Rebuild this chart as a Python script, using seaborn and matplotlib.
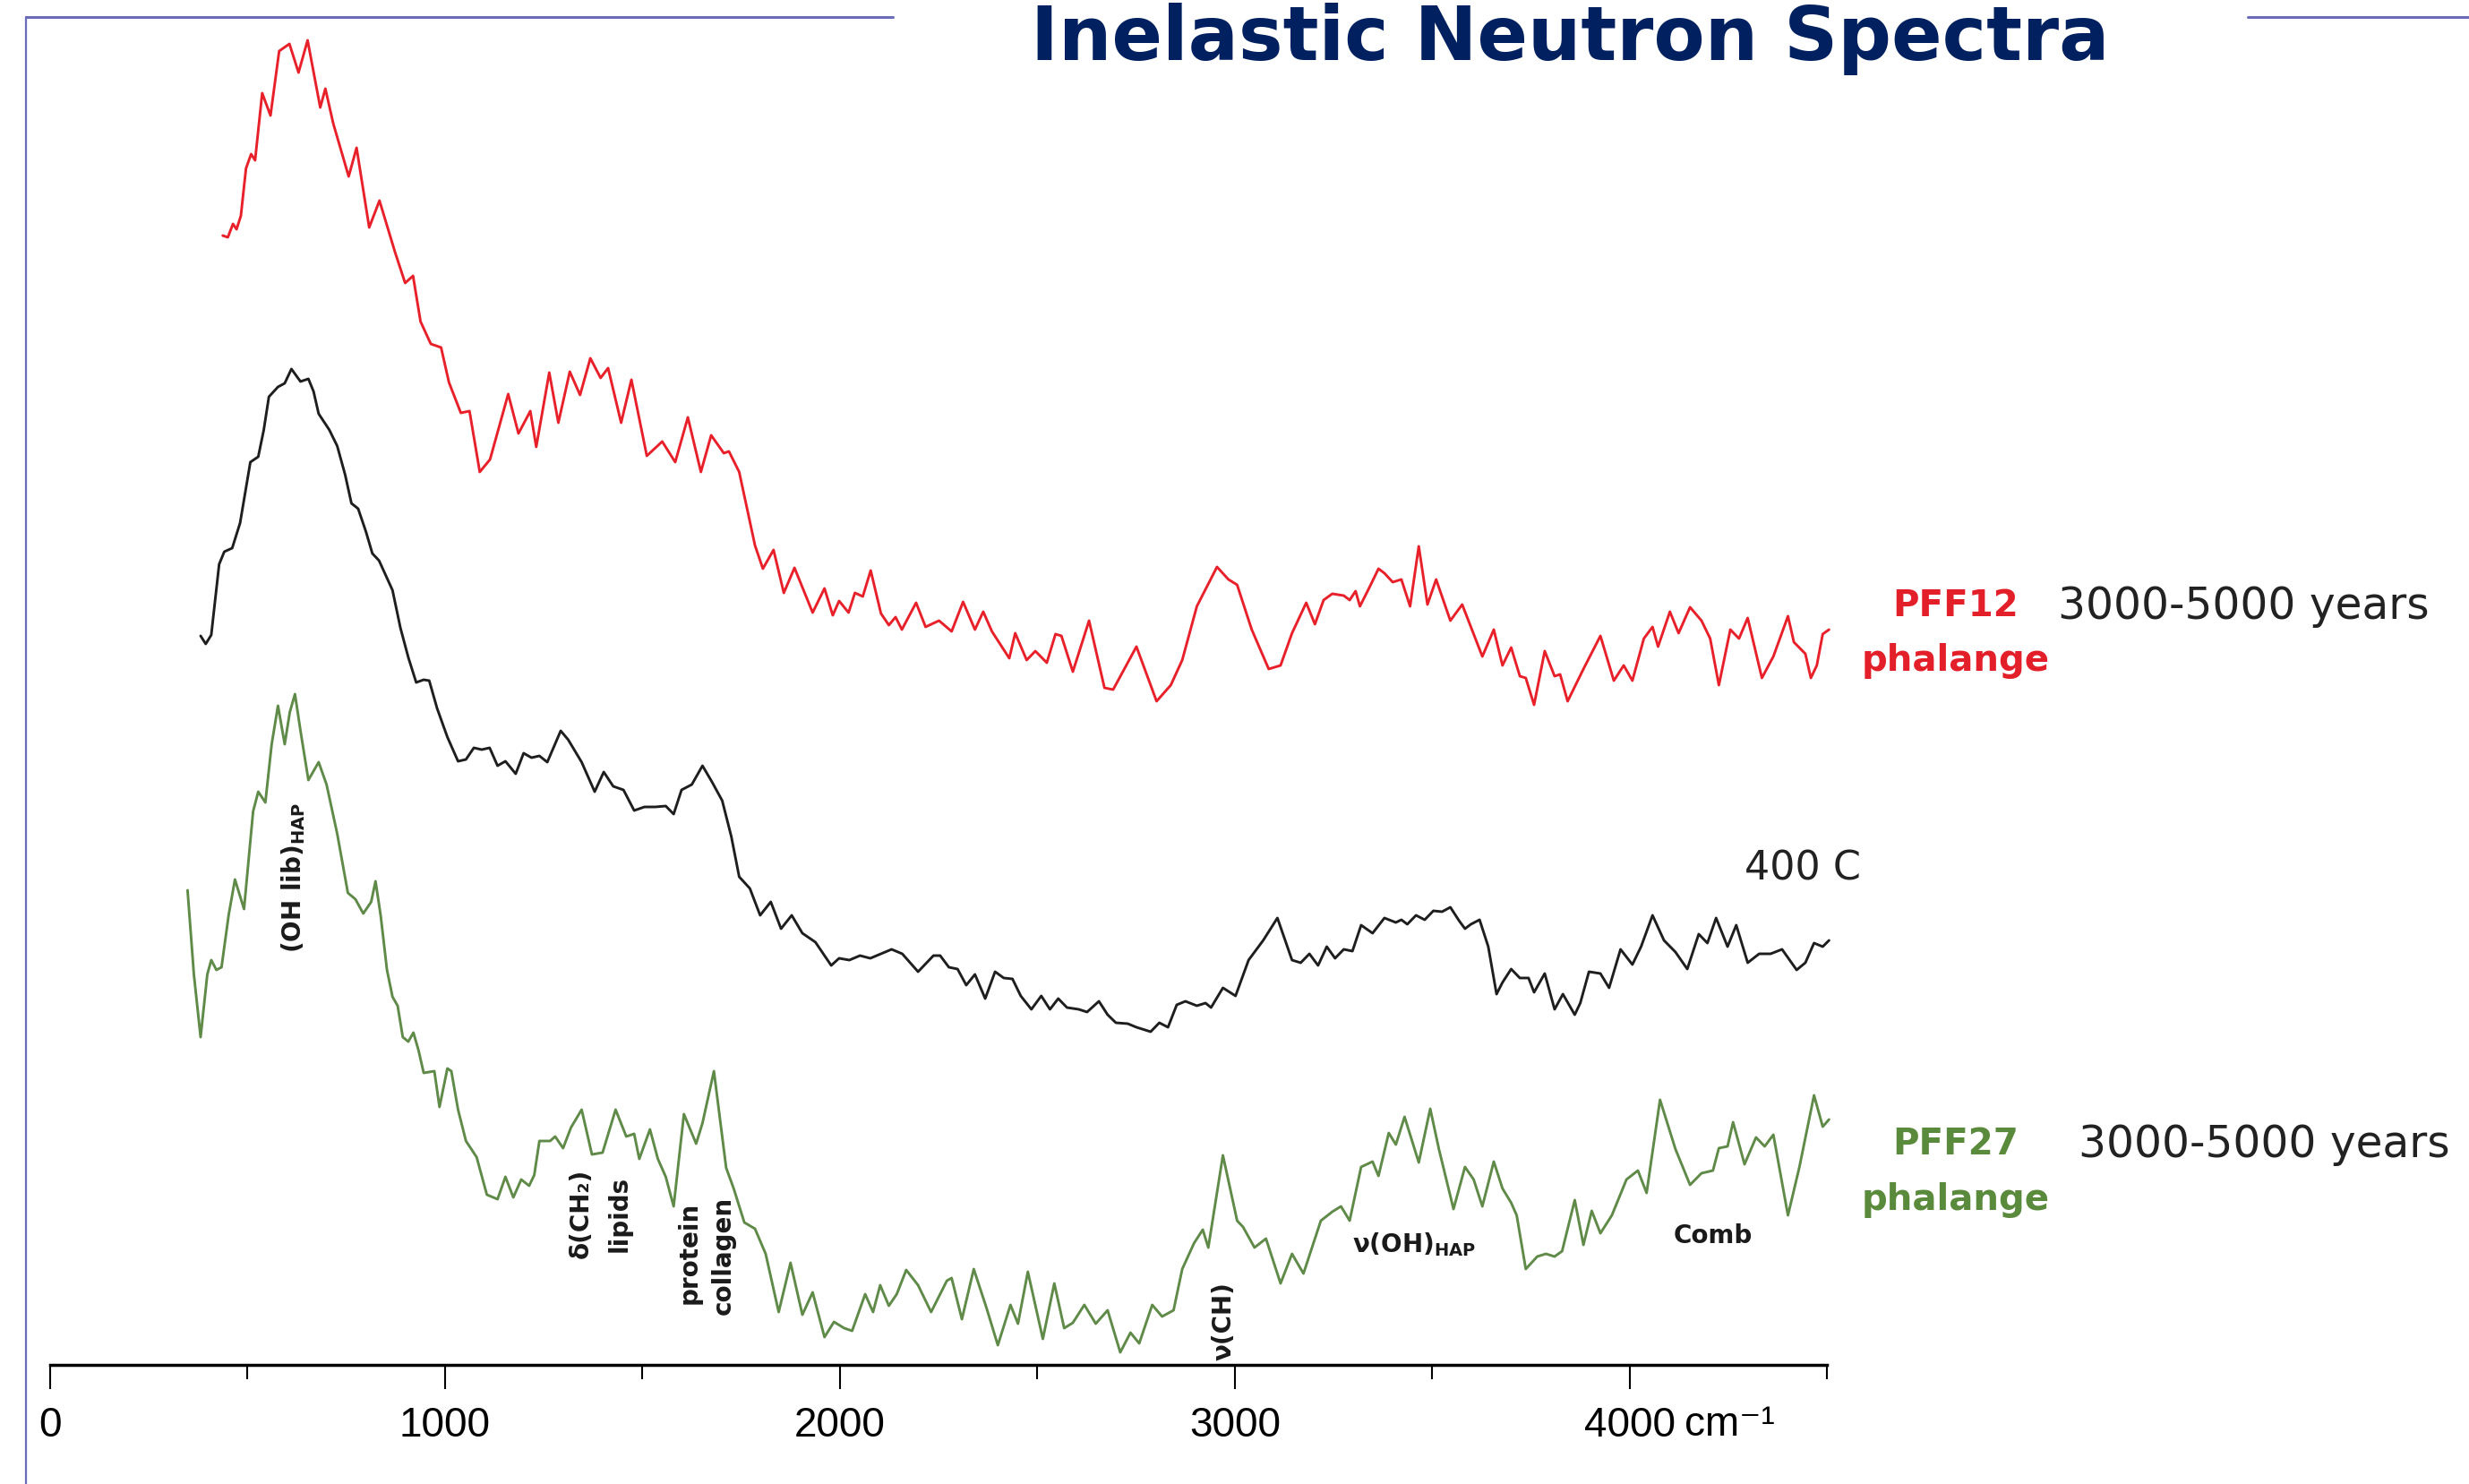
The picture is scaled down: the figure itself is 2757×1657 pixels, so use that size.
import matplotlib
matplotlib.use('Agg')  # no display in the sandbox
import matplotlib.pyplot as plt
import seaborn as sns
import pandas as pd
from matplotlib.lines import Line2D

# Energy transfer (cm-1) and intensity (arbitrary units, offset per sample)
red_x = [437, 450, 463, 472, 483, 496, 509, 519, 537, 558, 580, 606, 629, 652, 684, 697, 717, 756, 776, 808,
         834, 873, 899, 919, 938, 964, 990, 1010, 1040, 1062, 1088, 1114, 1160, 1186, 1216, 1231, 1264, 1287, 1316, 1342,
         1368, 1394, 1413, 1446, 1472, 1511, 1550, 1583, 1615, 1648, 1674, 1706, 1719, 1745, 1785, 1805, 1832, 1858, 1885, 1931,
         1961, 1982, 1998, 2022, 2038, 2058, 2078, 2104, 2124, 2141, 2157, 2193, 2217, 2251, 2283, 2312, 2342, 2363, 2385, 2429,
         2444, 2473, 2495, 2524, 2546, 2561, 2590, 2631, 2670, 2692, 2751, 2802, 2838, 2867, 2904, 2955, 2984, 3006, 3043, 3086,
         3116, 3145, 3181, 3203, 3225, 3247, 3276, 3291, 3306, 3317, 3342, 3364, 3379, 3400, 3422, 3444, 3466, 3488, 3510, 3546,
         3576, 3627, 3656, 3678, 3700, 3722, 3737, 3758, 3785, 3810, 3824, 3843, 3883, 3926, 3960, 3985, 4007, 4036, 4058, 4072,
         4102, 4124, 4153, 4182, 4204, 4226, 4255, 4277, 4299, 4335, 4364, 4401, 4416, 4445, 4459, 4474, 4489, 4505]
red_y = [1261, 1259, 1274, 1268, 1283, 1336, 1352, 1345, 1420, 1395, 1467, 1475, 1443, 1479, 1404, 1425, 1386, 1327, 1359, 1270,
         1300, 1243, 1208, 1216, 1165, 1140, 1136, 1097, 1063, 1065, 997, 1011, 1084, 1040, 1065, 1025, 1108, 1052, 1109, 1083,
         1124, 1102, 1113, 1052, 1100, 1015, 1031, 1008, 1058, 997, 1038, 1018, 1020, 997, 915, 889, 910, 862, 890, 840,
         867, 837, 853, 840, 862, 858, 887, 839, 826, 835, 821, 851, 824, 831, 819, 852, 821, 841, 819, 789,
         817, 787, 797, 784, 816, 814, 774, 831, 756, 754, 802, 741, 759, 787, 847, 891, 877, 871, 821, 777,
         781, 817, 851, 827, 854, 861, 859, 854, 864, 847, 869, 889, 884, 874, 877, 847, 914, 849, 877, 831,
         849, 791, 821, 781, 801, 769, 767, 737, 797, 769, 771, 741, 777, 814, 764, 781, 764, 811, 824, 802,
         841, 817, 846, 831, 811, 759, 821, 811, 834, 767, 791, 836, 807, 794, 767, 781, 816, 821]

black_x = [381, 394, 408, 428, 441, 461, 481, 507, 527, 541, 554, 577, 594, 611, 634, 654, 667, 680, 707, 727,
           747, 763, 780, 800, 816, 833, 867, 887, 907, 927, 946, 960, 980, 1006, 1033, 1053, 1073, 1093, 1113, 1133,
           1153, 1179, 1199, 1219, 1239, 1259, 1293, 1312, 1346, 1379, 1402, 1426, 1452, 1479, 1505, 1532, 1559, 1579, 1599, 1625,
           1652, 1676, 1702, 1725, 1745, 1772, 1798, 1825, 1851, 1878, 1905, 1938, 1978, 1998, 2024, 2051, 2077, 2104, 2131, 2158,
           2198, 2237, 2254, 2276, 2298, 2320, 2342, 2368, 2393, 2415, 2437, 2458, 2485, 2510, 2532, 2553, 2575, 2605, 2626, 2656,
           2678, 2699, 2729, 2751, 2787, 2809, 2831, 2853, 2875, 2904, 2926, 2940, 2970, 3002, 3035, 3072, 3108, 3145, 3167, 3189,
           3211, 3233, 3254, 3276, 3298, 3320, 3349, 3379, 3408, 3422, 3437, 3459, 3481, 3503, 3525, 3546, 3568, 3583, 3598, 3620,
           3642, 3663, 3678, 3700, 3722, 3744, 3758, 3785, 3810, 3831, 3861, 3875, 3897, 3926, 3948, 3977, 4007, 4029, 4058, 4087,
           4116, 4146, 4175, 4197, 4219, 4248, 4270, 4299, 4328, 4357, 4386, 4423, 4445, 4467, 4489, 4505]
black_y = [814, 805, 815, 894, 908, 912, 940, 1008, 1014, 1044, 1081, 1092, 1096, 1112, 1098, 1101, 1087, 1062, 1044, 1026,
           994, 962, 956, 930, 906, 898, 865, 823, 790, 762, 765, 764, 733, 701, 674, 676, 689, 687, 689, 669,
           674, 660, 683, 678, 680, 673, 708, 698, 673, 640, 662, 646, 642, 619, 623, 623, 624, 615, 642, 648,
           669, 651, 630, 590, 545, 532, 502, 517, 487, 502, 482, 472, 446, 454, 452, 457, 454, 459, 464, 459,
           439, 457, 457, 444, 442, 424, 436, 409, 439, 432, 431, 412, 397, 412, 397, 409, 399, 397, 394, 406,
           391, 382, 381, 377, 372, 382, 377, 402, 406, 401, 404, 399, 421, 412, 452, 474, 499, 452, 449, 459,
           446, 467, 454, 464, 462, 491, 482, 499, 494, 497, 492, 502, 497, 507, 506, 511, 496, 487, 492, 497,
           467, 414, 427, 442, 432, 432, 416, 437, 397, 414, 391, 404, 439, 437, 421, 464, 447, 467, 502, 474,
           461, 442, 481, 471, 499, 467, 491, 449, 459, 459, 464, 441, 449, 471, 467, 474]

green_x = [348, 364, 381, 398, 408, 421, 434, 452, 468, 491, 514, 527, 545, 561, 577, 594, 607, 620, 634, 654,
           680, 700, 727, 754, 773, 793, 813, 824, 837, 853, 867, 880, 893, 907, 920, 933, 946, 973, 986, 1006,
           1016, 1033, 1053, 1080, 1106, 1133, 1153, 1173, 1193, 1213, 1226, 1239, 1266, 1279, 1299, 1319, 1346, 1372, 1399, 1432,
           1459, 1479, 1492, 1519, 1539, 1559, 1579, 1605, 1636, 1652, 1681, 1712, 1731, 1758, 1785, 1812, 1845, 1875, 1905, 1931,
           1961, 1985, 2011, 2031, 2064, 2084, 2102, 2124, 2144, 2168, 2198, 2231, 2271, 2283, 2309, 2339, 2371, 2400, 2432, 2451,
           2476, 2514, 2543, 2568, 2590, 2619, 2648, 2678, 2710, 2736, 2758, 2791, 2816, 2845, 2867, 2897, 2919, 2933, 2970, 3006,
           3021, 3050, 3079, 3116, 3145, 3174, 3218, 3247, 3269, 3291, 3320, 3349, 3364, 3390, 3408, 3430, 3466, 3495, 3517, 3554,
           3583, 3605, 3627, 3656, 3678, 3700, 3714, 3737, 3766, 3788, 3810, 3829, 3861, 3883, 3904, 3926, 3955, 3992, 4021, 4043,
           4077, 4116, 4153, 4182, 4211, 4226, 4248, 4262, 4291, 4320, 4342, 4364, 4401, 4430, 4467, 4489, 4505]
green_y = [530, 436, 366, 436, 452, 441, 444, 502, 542, 509, 618, 640, 628, 693, 736, 693, 729, 749, 708, 653,
           673, 648, 593, 527, 520, 504, 517, 540, 502, 441, 411, 401, 366, 361, 371, 351, 326, 328, 288, 331,
           328, 285, 250, 232, 190, 185, 210, 187, 207, 200, 212, 250, 250, 255, 242, 265, 285, 235, 237, 285,
           255, 258, 230, 263, 230, 210, 177, 280, 247, 270, 328, 220, 197, 159, 152, 124, 59, 114, 56, 81,
           31, 48, 41, 38, 79, 59, 89, 66, 79, 106, 89, 59, 94, 97, 51, 107, 64, 22, 67, 46,
           104, 29, 91, 41, 47, 67, 46, 61, 14, 36, 24, 67, 54, 61, 107, 136, 151, 131, 234, 161,
           154, 131, 141, 91, 124, 102, 161, 171, 177, 161, 221, 227, 211, 259, 246, 277, 226, 286, 241, 174,
           221, 207, 177, 227, 197, 181, 167, 107, 121, 124, 121, 127, 184, 134, 172, 147, 167, 207, 217, 192,
           296, 241, 201, 214, 217, 242, 244, 271, 224, 254, 244, 257, 167, 221, 301, 266, 274]

major_ticks = [0, 1000, 2000, 3000, 4000]
minor_ticks = [500, 1500, 2500, 3500, 4500]
tick_labels = ['0', '1000', '2000', '3000', '4000']

colors = {'PFF12': '#e8202a', '400 C': '#1e1e1e', 'PFF27': '#5f8a48'}

sns.set_theme(style='white')
plt.rcParams['font.family'] = ['DejaVu Sans']
plt.rcParams['mathtext.fontset'] = 'dejavusans'

W, H = 2757, 1657
fig = plt.figure(figsize=(W / 100, H / 100), dpi=100, facecolor='white')
ax = fig.add_axes([56 / W, 133 / H, 1993 / W, 1524 / H])
ax.patch.set_alpha(0)

frames = [
    pd.DataFrame({'shift': red_x, 'intensity': red_y, 'sample': 'PFF12'}),
    pd.DataFrame({'shift': black_x, 'intensity': black_y, 'sample': '400 C'}),
    pd.DataFrame({'shift': green_x, 'intensity': green_y, 'sample': 'PFF27'}),
]
df = pd.concat(frames, ignore_index=True)
sns.lineplot(data=df, x='shift', y='intensity', hue='sample', palette=colors,
             estimator=None, sort=False, lw=2.1, legend=False, ax=ax)

ax.set_xlim(0, 4520)
ax.set_ylim(0, 1524)
for side in ['left', 'right', 'top']:
    ax.spines[side].set_visible(False)
ax.spines['bottom'].set_bounds(0, 4500)
ax.spines['bottom'].set_linewidth(2.5)
ax.spines['bottom'].set_color('black')
ax.set_yticks([])
ax.set_xlabel('')
ax.set_ylabel('')
ax.set_xticks(major_ticks)
ax.set_xticklabels(tick_labels, fontfamily='Liberation Sans', fontsize=33)
ax.set_xticks(minor_ticks, minor=True)
ax.tick_params(axis='x', which='major', bottom=True, direction='out', length=19.4,
               width=1.5, pad=13.5, color='black', labelcolor='black')
ax.tick_params(axis='x', which='minor', bottom=True, direction='out', length=11.5,
               width=1.5, color='black')
ax.text(4140, -79, 'cm\u207b\u00b9', ha='left', va='baseline', fontsize=33,
        family=['Liberation Sans', 'DejaVu Sans'], color='black')

# sample labels on the right
ax.text(4825, 847, 'PFF12', ha='center', va='center', fontsize=29, weight='bold', color='#e3202a')
ax.text(4825, 786, 'phalange', ha='center', va='center', fontsize=29, weight='bold', color='#e3202a')
ax.text(5084, 847, '3000-5000 years', ha='left', va='center', fontsize=35, color='#222222')
ax.text(4290, 554, '400 C', ha='left', va='center', fontsize=32, color='#222222')
ax.text(4825, 246, 'PFF27', ha='center', va='center', fontsize=29, weight='bold', color='#5a8a3c')
ax.text(4825, 184, 'phalange', ha='center', va='center', fontsize=29, weight='bold', color='#5a8a3c')
ax.text(5136, 246, '3000-5000 years', ha='left', va='center', fontsize=35, color='#222222')

# band assignments
ann = dict(fontsize=20, weight='bold', color='#1a1a1a')
ax.text(617, 544, r'(OH lib)$_{\mathbf{HAP}}$', ha='center', va='center', rotation=90, **ann)
ax.text(1345, 169, '\u03b4(CH\u2082)', ha='center', va='center', rotation=90, **ann)
ax.text(1442, 169, 'lipids', ha='center', va='center', rotation=90, **ann)
ax.text(1619, 125, 'protein', ha='center', va='center', rotation=90, **ann)
ax.text(1705, 122, 'collagen', ha='center', va='center', rotation=90, **ann)
ax.text(2973, 49, '\u03bd(CH)', ha='center', va='center', rotation=90, **ann)
ax.text(3297, 126, '\u03bd(OH)' + r'$_{\mathbf{HAP}}$', ha='left', va='baseline', **ann)
ax.text(4211, 136, 'Comb', ha='center', va='baseline', **ann)

# slide frame and title
frame_col = '#6a6cb8'
fig.add_artist(Line2D([29 / W, 29 / W], [0, 1 - 19 / H], transform=fig.transFigure, color=frame_col, lw=1.6))
fig.add_artist(Line2D([29 / W, 997 / W], [1 - 19 / H, 1 - 19 / H], transform=fig.transFigure, color=frame_col, lw=2.2))
fig.add_artist(Line2D([2510 / W, 1], [1 - 19 / H, 1 - 19 / H], transform=fig.transFigure, color=frame_col, lw=2.2))
fig.text(1753 / W, 1 - 67 / H, 'Inelastic Neutron Spectra', ha='center', va='baseline',
         fontsize=60, weight='bold', color='#002060')

fig.savefig('out.png', dpi=100, facecolor='white')
